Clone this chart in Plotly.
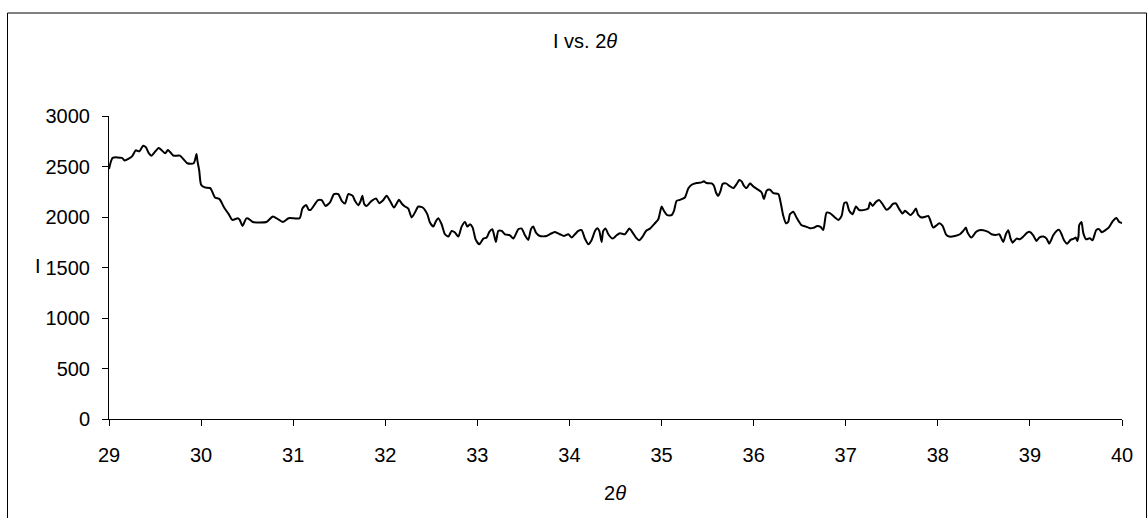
import plotly.graph_objects as go

# 2-theta (degrees) and intensity values
two_theta = [
    29.00, 29.04, 29.14, 29.17, 29.25, 29.29, 29.33, 29.37, 29.40, 29.43,
    29.46, 29.54, 29.61, 29.64, 29.70, 29.77, 29.85, 29.92, 29.95, 29.96,
    29.98, 30.00, 30.04, 30.10, 30.15, 30.20, 30.25, 30.30, 30.34, 30.40,
    30.42, 30.45, 30.49, 30.51, 30.56, 30.71, 30.78, 30.89, 30.95, 31.07,
    31.10, 31.14, 31.17, 31.19, 31.27, 31.31, 31.35,
    31.400, 31.443, 31.490, 31.527, 31.563, 31.599, 31.646, 31.671, 31.707, 31.733,
    31.751, 31.772, 31.798, 31.852, 31.899, 31.935, 31.971, 32.015, 32.051, 32.095,
    32.149, 32.178, 32.214, 32.250, 32.286, 32.322, 32.359, 32.406, 32.456, 32.485,
    32.522, 32.551, 32.576, 32.612, 32.648, 32.685, 32.721, 32.757, 32.793, 32.829,
    32.866, 32.891, 32.920, 32.949, 32.981, 33.021, 33.065, 33.101, 33.130, 33.162,
    33.184, 33.202, 33.227, 33.264, 33.300, 33.354, 33.390, 33.445, 33.481, 33.517,
    33.553, 33.582, 33.607, 33.636, 33.680, 33.752, 33.807, 33.843,
    33.897, 33.940, 33.987, 34.024, 34.060, 34.096, 34.132, 34.168, 34.205, 34.241,
    34.277, 34.302, 34.324, 34.349, 34.367, 34.393, 34.422, 34.469, 34.512, 34.548,
    34.603, 34.650, 34.686, 34.722, 34.758, 34.795, 34.831, 34.874, 34.928, 34.965,
    35.001, 35.026, 35.062, 35.109, 35.135, 35.164, 35.200, 35.254, 35.290, 35.327,
    35.381, 35.435, 35.460, 35.489, 35.544, 35.569, 35.591, 35.616, 35.641, 35.663,
    35.699, 35.736, 35.779, 35.815, 35.844, 35.869, 35.895, 35.924, 35.960, 35.996,
    36.050, 36.087, 36.112, 36.141, 36.177, 36.213, 36.268, 36.293, 36.322, 36.351,
    36.376,
    36.394, 36.430, 36.466, 36.521, 36.568, 36.611, 36.647, 36.691, 36.727, 36.756,
    36.792, 36.828, 36.883, 36.919, 36.955, 36.984, 37.009, 37.038, 37.074, 37.111,
    37.147, 37.190, 37.245, 37.263, 37.292, 37.328, 37.364, 37.400, 37.444, 37.480,
    37.509, 37.545, 37.581, 37.617, 37.643, 37.668, 37.704, 37.733, 37.762, 37.787,
    37.824, 37.860, 37.896, 37.914, 37.950, 37.986, 38.015, 38.052, 38.088, 38.124,
    38.186, 38.240, 38.276, 38.305, 38.323, 38.366, 38.414, 38.450, 38.493, 38.547,
    38.584, 38.631, 38.667, 38.710, 38.739, 38.765, 38.790, 38.812, 38.855, 38.891,
    38.928, 38.971, 39.000, 39.036, 39.072, 39.101, 39.145, 39.181, 39.210, 39.253,
    39.289, 39.318, 39.344, 39.369, 39.405, 39.441, 39.478, 39.499, 39.514, 39.528,
    39.535, 39.560, 39.580, 39.610, 39.650, 39.680, 39.720, 39.750, 39.780, 39.820,
    39.860, 39.900, 39.940, 39.970, 40.000,
]

intensity = [
    2475, 2585, 2585, 2560, 2600, 2660, 2650, 2705, 2690, 2635,
    2607, 2684, 2630, 2664, 2607, 2607, 2532, 2532, 2624, 2558,
    2458, 2319, 2293, 2286, 2194, 2177, 2094, 2028, 1971, 1988,
    1971, 1912, 1985, 1985, 1951, 1951, 2005, 1951, 1988, 1988,
    2084, 2120, 2071, 2071, 2167, 2167, 2110,
    2144, 2227, 2227, 2160, 2134, 2227, 2210, 2160, 2117, 2160,
    2210, 2127, 2110, 2160, 2184, 2137, 2160, 2210, 2160, 2094,
    2170, 2134, 2104, 2084, 1995, 2044, 2104, 2094, 2028, 1945,
    1905, 1961, 1988, 1928, 1829, 1806, 1862, 1846, 1806, 1905,
    1951, 1905, 1928, 1895, 1779, 1730, 1786, 1796, 1852, 1879,
    1812, 1753, 1862, 1862, 1829, 1819, 1786, 1879, 1885, 1819,
    1773, 1879, 1905, 1846, 1812, 1812, 1839, 1852,
    1829, 1812, 1829, 1796, 1829, 1862, 1869, 1786, 1730, 1773,
    1862, 1889, 1862, 1753, 1862, 1885, 1829, 1786, 1819, 1839,
    1829, 1885, 1846, 1796, 1769, 1806, 1862, 1885, 1938, 1978,
    2104, 2061, 2018, 2018, 2061, 2160, 2170, 2193, 2283, 2319,
    2336, 2343, 2353, 2336, 2333, 2309, 2243, 2210, 2260, 2326,
    2333, 2309, 2286, 2326, 2366, 2353, 2309, 2286, 2333, 2303,
    2270, 2243, 2177, 2260, 2270, 2237, 2227, 2144, 2011, 1938,
    1951,
    2028, 2051, 1995, 1918, 1905, 1889, 1892, 1912, 1902, 1872,
    2044, 2038, 1995, 1971, 2011, 2137, 2144, 2061, 2028, 2104,
    2068, 2068, 2084, 2144, 2110, 2150, 2167, 2127, 2071, 2094,
    2127, 2134, 2078, 2034, 2061, 2044, 2018, 2044, 2084, 2021,
    1995, 2001, 2011, 1978, 1895, 1918, 1938, 1912, 1829, 1806,
    1812, 1829, 1862, 1895, 1846, 1796, 1852, 1869, 1869, 1852,
    1829, 1822, 1829, 1753, 1829, 1869, 1786, 1746, 1786, 1779,
    1806, 1846, 1852, 1819, 1763, 1796, 1806, 1786, 1736, 1819,
    1862, 1872, 1829, 1773, 1736, 1773, 1786, 1796, 1763, 1812,
    1918, 1950, 1840, 1780, 1790, 1770, 1870, 1880, 1850, 1870,
    1900, 1960, 1990, 1950, 1940,
]

x_ticks = [29, 30, 31, 32, 33, 34, 35, 36, 37, 38, 39, 40]
y_ticks = [0, 500, 1000, 1500, 2000, 2500, 3000]

W, H = 1148, 518
L, R, T, B = 109, 26, 116, 99
pw, ph = W - L - R, H - T - B

def px(xp):
    return (xp - L) / pw

def py(yp):
    return (H - B - yp) / ph

FONT = "Liberation Sans, Arial, sans-serif"

fig = go.Figure()
fig.add_trace(go.Scatter(
    x=two_theta, y=intensity, mode="lines",
    line=dict(color="black", width=2, shape="spline", smoothing=0.6),
    showlegend=False, hoverinfo="x+y",
))

fig.update_layout(
    width=W, height=H,
    margin=dict(l=L, r=R, t=T, b=B),
    paper_bgcolor="white", plot_bgcolor="white",
    font=dict(family=FONT, size=20, color="black"),
    xaxis=dict(
        range=[29, 40], tickvals=x_ticks, ticktext=[str(v) for v in x_ticks],
        showgrid=False, zeroline=False, showline=True, linecolor="black", linewidth=1,
        ticks="outside", ticklen=6, tickcolor="black", tickwidth=1,
        ticklabelstandoff=12,
        tickfont=dict(family=FONT, size=20, color="black"),
    ),
    yaxis=dict(
        range=[0, 3000], tickvals=y_ticks, ticktext=[str(v) for v in y_ticks],
        showgrid=False, zeroline=False, showline=True, linecolor="black", linewidth=1,
        ticks="outside", ticklen=6, tickcolor="black", tickwidth=1,
        ticklabelstandoff=8,
        tickfont=dict(family=FONT, size=20, color="black"),
    ),
    shapes=[dict(
        type="rect", xref="paper", yref="paper",
        x0=px(7.5), x1=px(1146.5), y0=py(540), y1=py(13),
        line=dict(color="black", width=1), fillcolor="rgba(0,0,0,0)",
    )],
    annotations=[
        dict(text="I vs. 2<i>θ</i>", xref="paper", yref="paper",
             x=px(585), y=py(41), xanchor="center", yanchor="middle",
             showarrow=False, font=dict(family=FONT, size=20, color="black")),
        dict(text="2<i>θ</i>", xref="paper", yref="paper",
             x=px(615), y=py(493), xanchor="center", yanchor="middle",
             showarrow=False, font=dict(family=FONT, size=20, color="black")),
        dict(text="I", xref="paper", yref="paper",
             x=px(38), y=py(266), xanchor="center", yanchor="middle",
             showarrow=False, font=dict(family=FONT, size=20, color="black")),
    ],
)

fig.write_html(
    "out.html",
    config={"displayModeBar": False},
    post_script="document.body.style.margin='0';document.body.style.overflow='hidden';",
)
